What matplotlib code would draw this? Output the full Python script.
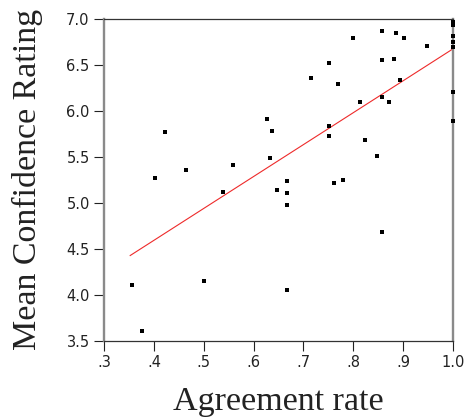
import matplotlib
matplotlib.use('Agg')
import matplotlib.pyplot as plt
import numpy as np

# agreement rate vs mean confidence rating
agreement = [0.355, 0.376, 0.402, 0.422, 0.464, 0.500, 0.538, 0.558,
             0.627, 0.636, 0.632, 0.646, 0.667, 0.667, 0.667, 0.667,
             0.715, 0.751, 0.751, 0.751, 0.762, 0.769, 0.779, 0.799,
             0.813, 0.823, 0.847, 0.857, 0.857, 0.857, 0.857, 0.873,
             0.883, 0.887, 0.894, 0.902, 0.948,
             1.0, 1.0, 1.0, 1.0, 1.0, 1.0, 1.0]
confidence = [4.10, 3.60, 5.27, 5.77, 5.36, 4.15, 5.12, 5.41,
              5.91, 5.78, 5.49, 5.14, 5.24, 5.11, 4.98, 4.05,
              6.36, 6.52, 5.83, 5.73, 5.22, 6.29, 5.25, 6.79,
              6.10, 5.68, 5.51, 6.87, 6.55, 6.15, 4.68, 6.10,
              6.56, 6.85, 6.34, 6.79, 6.71,
              6.97, 6.93, 6.82, 6.75, 6.70, 6.21, 5.89]

# regression line endpoints
fit_x = [0.352, 1.0]
fit_y = [4.425, 6.673]

x_ticks = [0.3, 0.4, 0.5, 0.6, 0.7, 0.8, 0.9, 1.0]
x_labels = ['.3', '.4', '.5', '.6', '.7', '.8', '.9', '1.0']
y_ticks = [3.5, 4.0, 4.5, 5.0, 5.5, 6.0, 6.5, 7.0]
y_labels = ['3.5', '4.0', '4.5', '5.0', '5.5', '6.0', '6.5', '7.0']

fig = plt.figure(figsize=(4.65, 4.17), dpi=100)
ax = fig.add_axes([104.3 / 465, (417 - 340.5) / 417, (452.7 - 104.3) / 465, (340.5 - 19) / 417])

ax.plot(fit_x, fit_y, color='#ee2a2a', linewidth=0.8, zorder=2)
ax.plot(agreement, confidence, linestyle='none', marker='s', markersize=3.2,
        markerfacecolor='black', markeredgewidth=0, color='black',
        clip_on=False, zorder=4)

ax.set_xlim(0.3, 1.0)
ax.set_ylim(3.5, 7.0)
ax.set_xticks(x_ticks)
ax.set_xticklabels(x_labels)
ax.set_yticks(y_ticks)
ax.set_yticklabels(y_labels)

for side in ['left', 'right']:
    ax.spines[side].set_color('#8a8a8a')
    ax.spines[side].set_linewidth(1.7)
for side in ['top', 'bottom']:
    ax.spines[side].set_color('#333333')
    ax.spines[side].set_linewidth(0.9)

ax.tick_params(axis='both', direction='out', length=7, width=0.8,
               color='#222222', labelsize=10.5, labelcolor='#222222', pad=3.5)
ax.tick_params(right=False, top=False)

ax.set_xlabel('Agreement rate', family='Liberation Serif', fontsize=24.5,
              color='#222222', labelpad=11.5)
ax.set_ylabel('Mean Confidence Rating', family='Liberation Serif', fontsize=24.5,
              color='#222222', labelpad=17)

fig.savefig('out.png', dpi=100)
